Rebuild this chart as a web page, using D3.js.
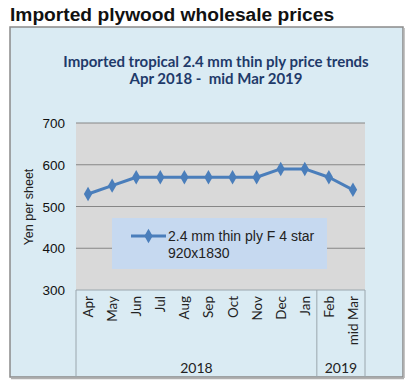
<!DOCTYPE html>
<html><head><meta charset="utf-8">
<script src="https://cdn.jsdelivr.net/npm/d3@7"></script>
<style>body{margin:0;background:#fff;} svg{display:block;}</style>
</head><body>
<svg id="c" width="415" height="390"></svg>
<script>
const categories = ["Apr","May","Jun","Jul","Aug","Sep","Oct","Nov","Dec","Jan","Feb","mid Mar"];
const values = [530,550,570,570,570,570,570,570,590,590,570,540];
const yTicks = [300,400,500,600,700];
const years = [{label:"2018", from:0, to:9},{label:"2019", from:10, to:11}];
const seriesName = ["2.4 mm thin ply F 4 star","920x1830"];

const svg = d3.select("#c");
const lato = "Lato, 'Liberation Sans', sans-serif";
const arial = "'Liberation Sans', Arial, sans-serif";

svg.append("text").attr("x",10).attr("y",21).attr("font-family",arial)
  .attr("font-size",19.2).attr("font-weight","bold").attr("fill","#111")
  .text("Imported plywood wholesale prices");

// outer box
svg.append("rect").attr("x",10).attr("y",27).attr("width",393).attr("height",350)
  .attr("fill","#daebf3").attr("stroke","#8a8a8a").attr("stroke-width",1.5);
svg.append("line").attr("x1",404).attr("x2",404).attr("y1",28).attr("y2",378).attr("stroke","#b0b0b0").attr("stroke-width",1.5);
svg.append("line").attr("x1",11).attr("x2",404).attr("y1",378.5).attr("y2",378.5).attr("stroke","#b0b0b0").attr("stroke-width",1.5);

svg.append("text").attr("x",216).attr("y",67).attr("text-anchor","middle")
  .attr("font-family",lato).attr("font-weight","bold").attr("font-size",15).attr("fill","#1f3a6a")
  .text("Imported tropical 2.4 mm thin ply price trends");
svg.append("text").attr("x",216).attr("y",84).attr("text-anchor","middle")
  .style("white-space","pre")
  .attr("font-family",lato).attr("font-weight","bold").attr("font-size",15).attr("fill","#1f3a6a")
  .text("Apr 2018 -  mid Mar 2019");

const L=76, R=365, T=123, B=290;
const x = d3.scaleBand().domain(categories).range([L,R]);
const y = d3.scaleLinear().domain([300,700]).range([B,T]);

svg.append("rect").attr("x",L).attr("y",T).attr("width",R-L).attr("height",B-T).attr("fill","#d9d9d9");

svg.selectAll("line.grid").data(yTicks.filter(d=>d>300)).join("line")
  .attr("x1",L).attr("x2",R).attr("y1",d=>y(d)).attr("y2",d=>y(d))
  .attr("stroke","#868686").attr("stroke-width",1);

svg.selectAll("text.ytick").data(yTicks).join("text")
  .attr("x",65).attr("y",d=>y(d)+5).attr("text-anchor","end")
  .attr("font-family",arial).attr("font-size",13.5).attr("fill","#111").text(d=>d);

svg.append("text").attr("transform","translate(33,207) rotate(-90)").attr("text-anchor","middle")
  .attr("font-family",arial).attr("font-size",12.5).attr("fill","#222").text("Yen per sheet");

// category axis
const axB = 377;
svg.append("line").attr("x1",L).attr("x2",R).attr("y1",B).attr("y2",B).attr("stroke","#9aa6ad");
[L, x(categories[10]), R].forEach(xx=>{
  svg.append("line").attr("x1",xx).attr("x2",xx).attr("y1",B).attr("y2",axB).attr("stroke","#9aa6ad");
});
svg.selectAll("text.cat").data(categories).join("text")
  .attr("transform",d=>`translate(${x(d)+x.bandwidth()/2+5},296) rotate(-90)`)
  .attr("text-anchor","end").attr("font-family",lato).attr("font-size",13.5).attr("fill","#222")
  .text(d=>d);
svg.selectAll("text.yr").data(years).join("text")
  .attr("x",d=>(x(categories[d.from])+x(categories[d.to])+x.bandwidth())/2).attr("y",373)
  .attr("text-anchor","middle").attr("font-family",lato).attr("font-size",14).attr("fill","#222")
  .text(d=>d.label);

// legend box
svg.append("rect").attr("x",112).attr("y",218).attr("width",215).attr("height",51).attr("fill","#c6d9f0");

// line
const cx = d=>x(d)+x.bandwidth()/2;
const line = d3.line().x((d,i)=>cx(categories[i])).y(d=>y(d));
svg.append("path").datum(values).attr("d",line).attr("fill","none")
  .attr("stroke","#4a7ebb").attr("stroke-width",3).attr("stroke-linejoin","round");
const diamond = d3.symbol().type(d3.symbolDiamond).size(60);
svg.selectAll("path.pt").data(values).join("path")
  .attr("transform",(d,i)=>`translate(${cx(categories[i])},${y(d)})`)
  .attr("d",diamond).attr("fill","#4a7ebb");

// legend content
svg.append("line").attr("x1",131).attr("x2",166).attr("y1",236).attr("y2",236)
  .attr("stroke","#4a7ebb").attr("stroke-width",3);
svg.append("path").attr("transform","translate(148.5,236)").attr("d",diamond).attr("fill","#4a7ebb");
svg.selectAll("text.leg").data(seriesName).join("text")
  .attr("x",168).attr("y",(d,i)=>241+i*17).attr("font-family",arial).attr("font-size",14)
  .attr("fill","#222").text(d=>d);
</script>
</body></html>
